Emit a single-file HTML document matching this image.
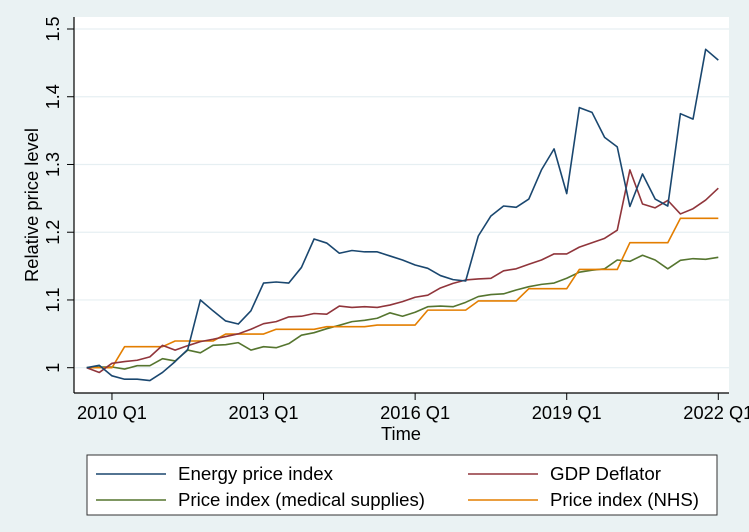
<!DOCTYPE html>
<html><head><meta charset="utf-8"><style>
html,body{margin:0;padding:0;background:#eaf2f3;}
svg{display:block;font-family:"Liberation Sans",Arial,sans-serif;}
</style></head><body>
<svg id="chart" width="749" height="532" viewBox="0 0 749 532">
<rect x="0" y="0" width="749" height="532" fill="#eaf2f3"/>
<rect x="74" y="17" width="655" height="376" fill="#ffffff"/>
<g id="grid"></g>
<g id="series"></g>
<line x1="74" y1="17" x2="74" y2="393" stroke="#000" stroke-width="1.2"/>
<line x1="74" y1="393" x2="729" y2="393" stroke="#000" stroke-width="1.2"/>
<g id="yticks"></g>
<g id="xticks"></g>
<text x="0" y="0" transform="translate(33,205) rotate(-90)" text-anchor="middle" dominant-baseline="middle" font-size="18" textLength="154" lengthAdjust="spacingAndGlyphs">Relative price level</text>
<text x="401" y="440" text-anchor="middle" font-size="18" textLength="40" lengthAdjust="spacingAndGlyphs">Time</text>
<g>
<rect x="87" y="455" width="630" height="60" fill="#fff" stroke="#333" stroke-width="1"/>
<g>
<line x1="96" y1="474" x2="166" y2="474" stroke="#1a476f" stroke-width="1.5"/>
<text x="178" y="480" font-size="18" textLength="155" lengthAdjust="spacingAndGlyphs">Energy price index</text></g>
<g>
<line x1="468" y1="474" x2="538" y2="474" stroke="#90353b" stroke-width="1.5"/>
<text x="550" y="480" font-size="18" textLength="111" lengthAdjust="spacingAndGlyphs">GDP Deflator</text></g>
<g>
<line x1="96" y1="500" x2="166" y2="500" stroke="#55752f" stroke-width="1.5"/>
<text x="178" y="506" font-size="18" textLength="247" lengthAdjust="spacingAndGlyphs">Price index (medical supplies)</text></g>
<g>
<line x1="468" y1="500" x2="538" y2="500" stroke="#e37e00" stroke-width="1.5"/>
<text x="550" y="506" font-size="18" textLength="149" lengthAdjust="spacingAndGlyphs">Price index (NHS)</text></g>
</g>
</svg>
<script>
// Quarters from 2009 Q3 (index 0) to 2022 Q1 (index 50)
const quarterCount = 51;
const energy = [1.000,1.0035,0.988,0.983,0.983,0.981,0.993,1.009,1.027,1.100,1.084,1.069,1.0645,1.084,1.125,1.1265,1.125,1.148,1.190,1.184,1.169,1.173,1.171,1.171,1.165,1.159,1.1516,1.1467,1.136,1.130,1.128,1.1944,1.224,1.2387,1.2368,1.249,1.292,1.323,1.257,1.384,1.377,1.340,1.326,1.238,1.286,1.249,1.2387,1.375,1.367,1.470,1.454];
const gdpDeflator = [1.000,0.993,1.0065,1.009,1.011,1.016,1.033,1.026,1.0325,1.0385,1.042,1.046,1.050,1.0567,1.065,1.068,1.075,1.076,1.080,1.079,1.091,1.089,1.090,1.089,1.0925,1.0975,1.104,1.107,1.1177,1.1245,1.1295,1.131,1.132,1.143,1.146,1.1527,1.159,1.168,1.168,1.178,1.1845,1.191,1.203,1.292,1.2417,1.236,1.247,1.227,1.2347,1.2475,1.265];
const medical = [1.000,1.001,1.001,0.998,1.003,1.003,1.0133,1.010,1.026,1.022,1.033,1.034,1.037,1.026,1.031,1.0295,1.0355,1.048,1.0517,1.0576,1.0626,1.068,1.070,1.073,1.081,1.076,1.0818,1.090,1.091,1.090,1.0965,1.105,1.108,1.109,1.1147,1.1196,1.123,1.125,1.132,1.141,1.144,1.146,1.159,1.157,1.166,1.159,1.146,1.1585,1.161,1.160,1.163];
const nhs = [1.000,1.000,1.000,1.031,1.031,1.031,1.031,1.0394,1.0394,1.0394,1.0394,1.0497,1.0497,1.0497,1.0497,1.0567,1.0567,1.0567,1.0567,1.0605,1.0605,1.0605,1.0605,1.063,1.063,1.063,1.063,1.085,1.085,1.085,1.085,1.0985,1.0985,1.0985,1.0985,1.1167,1.1167,1.1167,1.1167,1.145,1.145,1.145,1.145,1.1845,1.1845,1.1845,1.1845,1.2205,1.2205,1.2205,1.2205];
const yTickValues = [1, 1.1, 1.2, 1.3, 1.4, 1.5];
const yTickLabels = ["1", "1.1", "1.2", "1.3", "1.4", "1.5"];
const xTickIndices = [2, 14, 26, 38, 50];
const xTickLabels = ["2010 Q1", "2013 Q1", "2016 Q1", "2019 Q1", "2022 Q1"];

const NS = "http://www.w3.org/2000/svg";
function xScale(i){ return 86.7 + (718.3 - 86.7) * i / (quarterCount - 1); }
function yScale(v){ return 367.7 - (v - 1) * 677.4; }
function mk(tag, attrs, parent){ const e = document.createElementNS(NS, tag); for (const k in attrs) e.setAttribute(k, attrs[k]); parent.appendChild(e); return e; }

const grid = document.getElementById('grid');
const yt = document.getElementById('yticks');
yTickValues.forEach((v, k) => {
  const y = yScale(v);
  const g = mk('line', {x1: 75, x2: 729, y1: y, y2: y, stroke: '#e6eff2', 'stroke-width': 1.2}, grid);
  
  
  const t = mk('line', {x1: 67, x2: 74, y1: y, y2: y, stroke: '#000', 'stroke-width': 1}, yt);
  
  
  const lab = mk('text', {x: 0, y: 0, transform: 'translate(59,' + y + ') rotate(-90)', 'text-anchor': 'middle', 'font-size': 18}, yt);
  lab.textContent = yTickLabels[k];
  
  
});
const xt = document.getElementById('xticks');
xTickIndices.forEach((i, k) => {
  const x = xScale(i);
  const t = mk('line', {x1: x, x2: x, y1: 393, y2: 400, stroke: '#000', 'stroke-width': 1}, xt);
  
  
  const lab = mk('text', {x: x, y: 419, 'text-anchor': 'middle', 'font-size': 18, textLength: 70, lengthAdjust: 'spacingAndGlyphs'}, xt);
  lab.textContent = xTickLabels[k];
  
  
});
const sg = document.getElementById('series');
function drawLine(vals, color, name){
  const pts = vals.map((v, i) => xScale(i).toFixed(2) + ',' + yScale(v).toFixed(2)).join(' ');
  const p = mk('polyline', {points: pts, fill: 'none', stroke: color, 'stroke-width': 1.6, 'stroke-linejoin': 'round'}, sg);
  
  
}
drawLine(medical, '#55752f', 'medical-supplies-line');
drawLine(nhs, '#e37e00', 'nhs-line');
drawLine(gdpDeflator, '#90353b', 'gdp-deflator-line');
drawLine(energy, '#1a476f', 'energy-price-line');
</script>
</body></html>
